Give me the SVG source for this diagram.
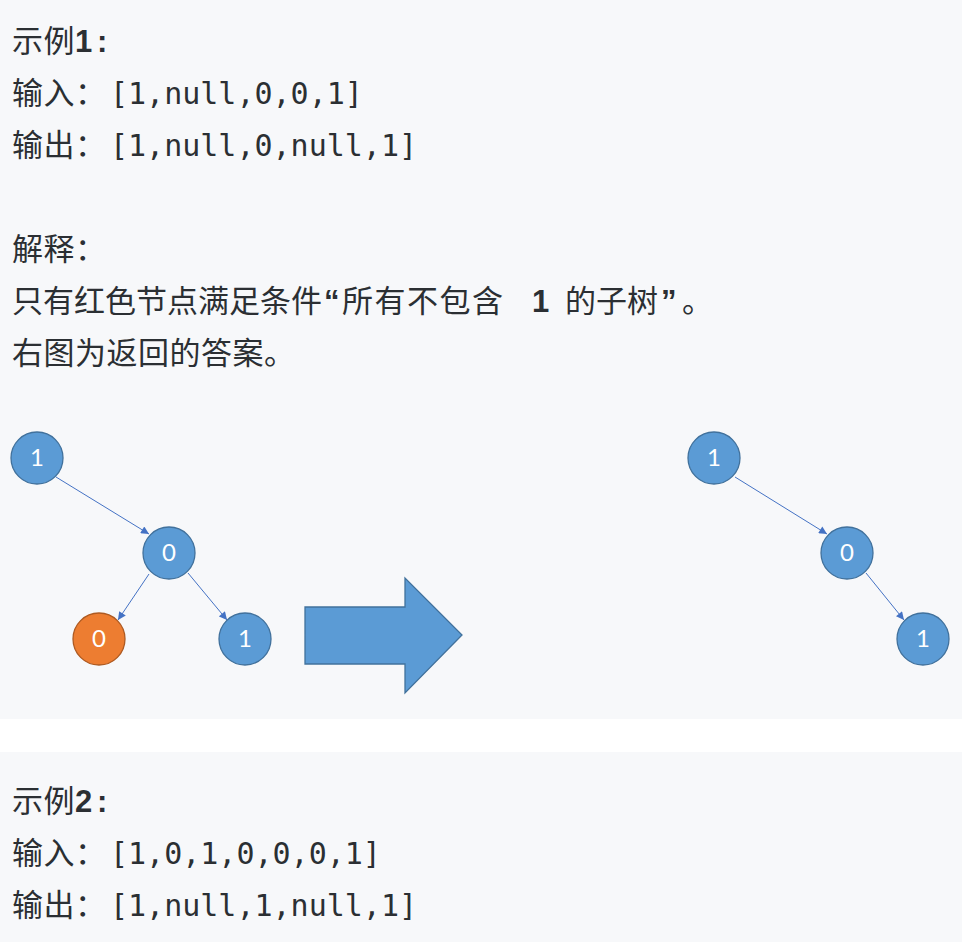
<svg xmlns="http://www.w3.org/2000/svg" width="962" height="942" viewBox="0 0 962 942">
<style>
.cjk{font-family:"Noto Sans CJK SC","Noto Sans",sans-serif;font-size:31px;fill:#2b2f33;letter-spacing:0.5px}
.mono{font-family:"DejaVu Sans Mono","Liberation Mono",monospace;font-size:30px;fill:#2b2f33;letter-spacing:0}
.bold{font-family:"Liberation Sans","Noto Sans",sans-serif;font-weight:bold;font-size:31px;fill:#2b2f33;letter-spacing:0}
.lat{font-family:"Liberation Sans",sans-serif;font-weight:bold;font-size:31px;fill:#2b2f33;letter-spacing:0}
.nb{fill:#5b9bd5;stroke:#41719c;stroke-width:1.3}
.no{fill:#ed7d31;stroke:#ae5a21;stroke-width:1.3}
.nt{font-family:Lato,"Open Sans",sans-serif;font-size:24px;fill:#ffffff;text-anchor:middle}
.edge{stroke:#4472c4;stroke-width:1;fill:none;marker-end:url(#ah)}
</style>
<defs>
<marker id="ah" viewBox="0 0 10 10" refX="10" refY="5" markerWidth="9" markerHeight="8" markerUnits="userSpaceOnUse" orient="auto">
<path d="M0,0 L10,5 L0,10 z" fill="#4472c4"/>
</marker>
</defs>
<rect x="0" y="0" width="962" height="942" fill="#f7f8fa"/>
<rect x="0" y="719" width="962" height="33" fill="#ffffff"/>

<g id="text-example1">
<text class="cjk" x="12" y="52">示例<tspan class="bold" x="75">1</tspan><tspan class="bold" x="97">:</tspan></text>
<text class="cjk" x="12" y="104">输入：<tspan class="mono" x="110">[1,null,0,0,1]</tspan></text>
<text class="cjk" x="12" y="156">输出：<tspan class="mono" x="110">[1,null,0,null,1]</tspan></text>
<text class="cjk" x="12" y="260">解释：</text>
<text class="cjk" x="12" y="312" style="letter-spacing:0">只有红色节点满足条件<tspan class="lat" x="324">“</tspan><tspan x="342" style="letter-spacing:1.5px">所有不包含</tspan><tspan class="bold" x="532">1</tspan><tspan x="565">的子树</tspan><tspan class="lat" x="661">”</tspan><tspan x="682">。</tspan></text>
<text class="cjk" x="12" y="364">右图为返回的答案。</text>
</g>

<g id="connectors">
<line class="edge" x1="56" y1="477" x2="149" y2="534"/>
<line class="edge" x1="149" y1="574" x2="118" y2="620"/>
<line class="edge" x1="188" y1="573" x2="227" y2="620"/>
<line class="edge" x1="735" y1="477" x2="827" y2="534"/>
<line class="edge" x1="866" y1="573" x2="904" y2="620"/>
</g>

<g id="node-a"><circle class="nb" cx="37" cy="458" r="26"/><text class="nt" x="37" y="466">1</text></g>
<g id="node-b"><circle class="nb" cx="169" cy="553" r="26"/><text class="nt" x="169" y="561">0</text></g>
<g id="node-c"><circle class="no" cx="99" cy="639" r="26"/><text class="nt" x="99" y="647">0</text></g>
<g id="node-d"><circle class="nb" cx="245" cy="639" r="26"/><text class="nt" x="245" y="647">1</text></g>

<g id="big-arrow"><polygon class="nb" points="305,607 405,607 405,578 462,635 405,693 405,664 305,664"/></g>

<g id="node-e"><circle class="nb" cx="714" cy="458" r="26"/><text class="nt" x="714" y="466">1</text></g>
<g id="node-f"><circle class="nb" cx="847" cy="553" r="26"/><text class="nt" x="847" y="561">0</text></g>
<g id="node-g"><circle class="nb" cx="923" cy="639" r="26"/><text class="nt" x="923" y="647">1</text></g>

<g id="text-example2">
<text class="cjk" x="12" y="812">示例<tspan class="bold" x="75">2</tspan><tspan class="bold" x="97">:</tspan></text>
<text class="cjk" x="12" y="864">输入：<tspan class="mono" x="110">[1,0,1,0,0,0,1]</tspan></text>
<text class="cjk" x="12" y="916">输出：<tspan class="mono" x="110">[1,null,1,null,1]</tspan></text>
</g>
</svg>
